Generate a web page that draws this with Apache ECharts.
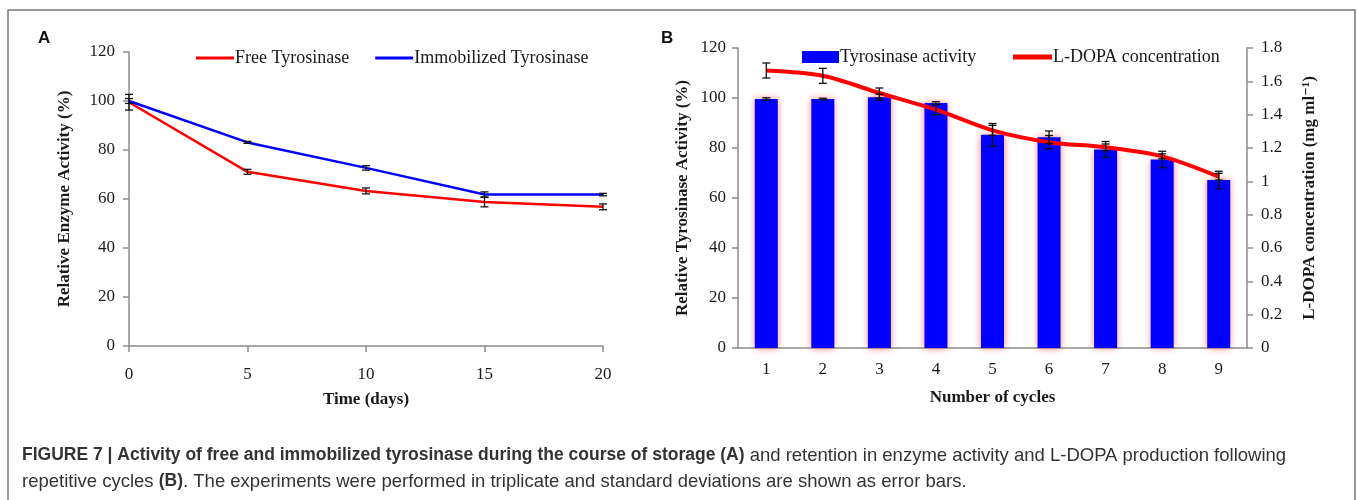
<!DOCTYPE html>
<html>
<head>
<meta charset="utf-8">
<script src="https://cdn.jsdelivr.net/npm/echarts@6/dist/echarts.min.js"></script>
<style>
  html, body { margin: 0; padding: 0; background: #fff; }
  #chart { width: 1357px; height: 500px; }
</style>
</head>
<body>
<div id="chart"></div>
<script>
// panel A: storage stability
const days = [0, 5, 10, 15, 20];
const freeActivity = [99.5, 71.1, 63.3, 58.8, 56.8];
const freeSd = [3.2, 1.0, 1.2, 2.0, 1.2];
const immobActivity = [100, 83.1, 72.7, 61.8, 61.8];
const immobSd = [1.0, 0.4, 0.9, 1.1, 0.5];

// panel B: reusability
const cycles = ['1', '2', '3', '4', '5', '6', '7', '8', '9'];
const tyrActivity = [99.6, 99.6, 100.3, 98.0, 85.3, 84.3, 79.4, 75.4, 67.2];
const tyrSd = [0.5, 0.3, 1.2, 0.5, 4.5, 2.5, 3.2, 3.3, 3.5];
const ldopa = [1.665, 1.633, 1.53, 1.43, 1.306, 1.235, 1.204, 1.15, 1.028];
const ldopaSd = [0.045, 0.045, 0.03, 0.03, 0.03, 0.04, 0.02, 0.015, 0.02];

const serif = '"Liberation Serif", "DejaVu Serif", serif';
const sans = '"Liberation Sans", Arial, sans-serif';
const txt = '#1a1a1a';
const axisGray = '#8c8c8c';

// [x, low, high] rows for the error bar series
function errRows(xs, vals, sds) {
  return vals.map((v, i) => [xs[i], v - sds[i], v + sds[i]]);
}

function renderErr(params, api) {
  const x = api.value(0);
  const lo = api.coord([x, api.value(1)]);
  const hi = api.coord([x, api.value(2)]);
  const w = 4;
  const style = { stroke: '#111', lineWidth: 1.3 };
  return {
    type: 'group',
    children: [
      { type: 'line', shape: { x1: lo[0], y1: lo[1], x2: hi[0], y2: hi[1] }, style },
      { type: 'line', shape: { x1: lo[0] - w, y1: lo[1], x2: lo[0] + w, y2: lo[1] }, style },
      { type: 'line', shape: { x1: hi[0] - w, y1: hi[1], x2: hi[0] + w, y2: hi[1] }, style }
    ]
  };
}

const tickLabel = { fontFamily: serif, fontSize: 17, color: txt };
const axisName = { fontFamily: serif, fontSize: 17, fontWeight: 'bold', color: txt };

const chart = echarts.init(document.getElementById('chart'));

const option = {
  animation: false,
  backgroundColor: '#fff',
  grid: [
    { left: 129, top: 52, width: 474, height: 294 },
    { left: 738, top: 48, width: 509, height: 300 }
  ],
  legend: [
    {
      data: [
        { name: 'Free Tyrosinase', icon: 'rect' },
        { name: 'Immobilized Tyrosinase', icon: 'rect' }
      ],
      left: 191, top: 44,
      itemWidth: 38, itemHeight: 3, itemGap: 26,
      textStyle: { fontFamily: serif, fontSize: 18, color: txt, padding: [0, 0, 0, -4] }
    },
    {
      data: [{ name: 'Tyrosinase activity', icon: 'rect' }],
      left: 797, top: 43,
      itemWidth: 37, itemHeight: 12,
      textStyle: { fontFamily: serif, fontSize: 18, color: txt, padding: [0, 0, 0, -4] }
    },
    {
      data: [{ name: 'L-DOPA concentration', icon: 'rect' }],
      left: 1008, top: 43,
      itemWidth: 39, itemHeight: 5,
      textStyle: { fontFamily: serif, fontSize: 18, color: txt, padding: [0, 0, 0, -4] }
    }
  ],
  xAxis: [
    {
      type: 'value', gridIndex: 0, min: 0, max: 20, interval: 5,
      name: 'Time (days)', nameLocation: 'middle', nameGap: 45, nameTextStyle: axisName,
      axisLine: { lineStyle: { color: axisGray, width: 1.5 } },
      axisTick: { length: 6, lineStyle: { color: axisGray, width: 1.5 } },
      axisLabel: Object.assign({ margin: 20 }, tickLabel),
      splitLine: { show: false }
    },
    {
      type: 'category', gridIndex: 1, data: cycles,
      name: 'Number of cycles', nameLocation: 'middle', nameGap: 41, nameTextStyle: axisName,
      axisLine: { lineStyle: { color: axisGray, width: 1.5 } },
      axisTick: { length: 6, lineStyle: { color: axisGray, width: 1.5 } },
      axisLabel: Object.assign({ margin: 13 }, tickLabel)
    }
  ],
  yAxis: [
    {
      type: 'value', gridIndex: 0, min: 0, max: 120, interval: 20,
      name: 'Relative Enzyme Activity (%)', nameLocation: 'middle', nameGap: 56, nameRotate: 90,
      nameTextStyle: axisName,
      axisLine: { show: true, lineStyle: { color: axisGray, width: 1.5 } },
      axisTick: { show: true, length: 6, lineStyle: { color: axisGray, width: 1.5 } },
      axisLabel: Object.assign({ margin: 14 }, tickLabel),
      splitLine: { show: false }
    },
    {
      type: 'value', gridIndex: 1, min: 0, max: 120, interval: 20,
      name: 'Relative Tyrosinase Activity (%)', nameLocation: 'middle', nameGap: 47, nameRotate: 90,
      nameTextStyle: axisName,
      axisLine: { show: true, lineStyle: { color: axisGray, width: 1.5 } },
      axisTick: { show: true, length: 6, lineStyle: { color: axisGray, width: 1.5 } },
      axisLabel: Object.assign({ margin: 12 }, tickLabel),
      splitLine: { show: false }
    },
    {
      type: 'value', gridIndex: 1, position: 'right', min: 0, max: 1.8, interval: 0.2,
      name: 'L-DOPA concentration (mg ml⁻¹)', nameLocation: 'middle', nameGap: 54, nameRotate: 90,
      nameTextStyle: axisName,
      axisLine: { show: true, lineStyle: { color: axisGray, width: 1.5 } },
      axisTick: { show: true, length: 6, lineStyle: { color: axisGray, width: 1.5 } },
      axisLabel: Object.assign({ margin: 14 }, tickLabel),
      splitLine: { show: false }
    }
  ],
  series: [
    {
      name: 'Free Tyrosinase', type: 'line', xAxisIndex: 0, yAxisIndex: 0,
      data: days.map((d, i) => [d, freeActivity[i]]),
      symbol: 'none', color: '#ff0000', lineStyle: { width: 2.5 }, z: 3
    },
    {
      name: 'Immobilized Tyrosinase', type: 'line', xAxisIndex: 0, yAxisIndex: 0,
      data: days.map((d, i) => [d, immobActivity[i]]),
      symbol: 'none', color: '#0000ff', lineStyle: { width: 2.5 }, z: 3
    },
    {
      type: 'custom', xAxisIndex: 0, yAxisIndex: 0, renderItem: renderErr,
      data: errRows(days, freeActivity, freeSd), z: 4
    },
    {
      type: 'custom', xAxisIndex: 0, yAxisIndex: 0, renderItem: renderErr,
      data: errRows(days, immobActivity, immobSd), z: 4
    },
    {
      name: 'Tyrosinase activity', type: 'bar', xAxisIndex: 1, yAxisIndex: 1,
      data: tyrActivity, barWidth: 23, color: '#0000ff',
      itemStyle: { shadowBlur: 7, shadowColor: 'rgba(255,40,40,0.65)' }
    },
    {
      name: 'L-DOPA concentration', type: 'line', xAxisIndex: 1, yAxisIndex: 2,
      data: ldopa, smooth: 0.3, symbol: 'none', color: '#ff0000',
      lineStyle: { width: 4 }, z: 3
    },
    {
      type: 'custom', xAxisIndex: 1, yAxisIndex: 1, renderItem: renderErr,
      data: errRows(cycles.map((c, i) => i), tyrActivity, tyrSd), z: 4
    },
    {
      type: 'custom', xAxisIndex: 1, yAxisIndex: 2, renderItem: renderErr,
      data: errRows(cycles.map((c, i) => i), ldopa, ldopaSd), z: 4
    }
  ],
  graphic: [
    {
      type: 'polyline', silent: true,
      shape: { points: [[8, 500], [8, 10], [1355, 10], [1355, 500]] },
      style: { stroke: '#777', lineWidth: 1.5, fill: null }
    },
    { type: 'text', left: 38, top: 30, style: { text: 'A', font: 'bold 17px ' + sans, fill: '#111' } },
    { type: 'text', left: 661, top: 30, style: { text: 'B', font: 'bold 17px ' + sans, fill: '#111' } },
    {
      type: 'text', left: 22, top: 446,
      style: {
        text: '{b|FIGURE 7 | Activity of free and immobilized tyrosinase during the course of storage (A)}{r| and retention in enzyme activity and L-DOPA production following}',
        rich: {
          b: { font: 'bold 17.5px ' + sans, fill: '#333' },
          r: { font: '18.5px ' + sans, fill: '#333' }
        }
      }
    },
    {
      type: 'text', left: 22, top: 472,
      style: {
        text: '{r|repetitive cycles }{b|(B)}{r|. The experiments were performed in triplicate and standard deviations are shown as error bars.}',
        rich: {
          b: { font: 'bold 17.5px ' + sans, fill: '#333' },
          r: { font: '18.5px ' + sans, fill: '#333' }
        }
      }
    }
  ]
};

chart.setOption(option);
</script>
</body>
</html>
